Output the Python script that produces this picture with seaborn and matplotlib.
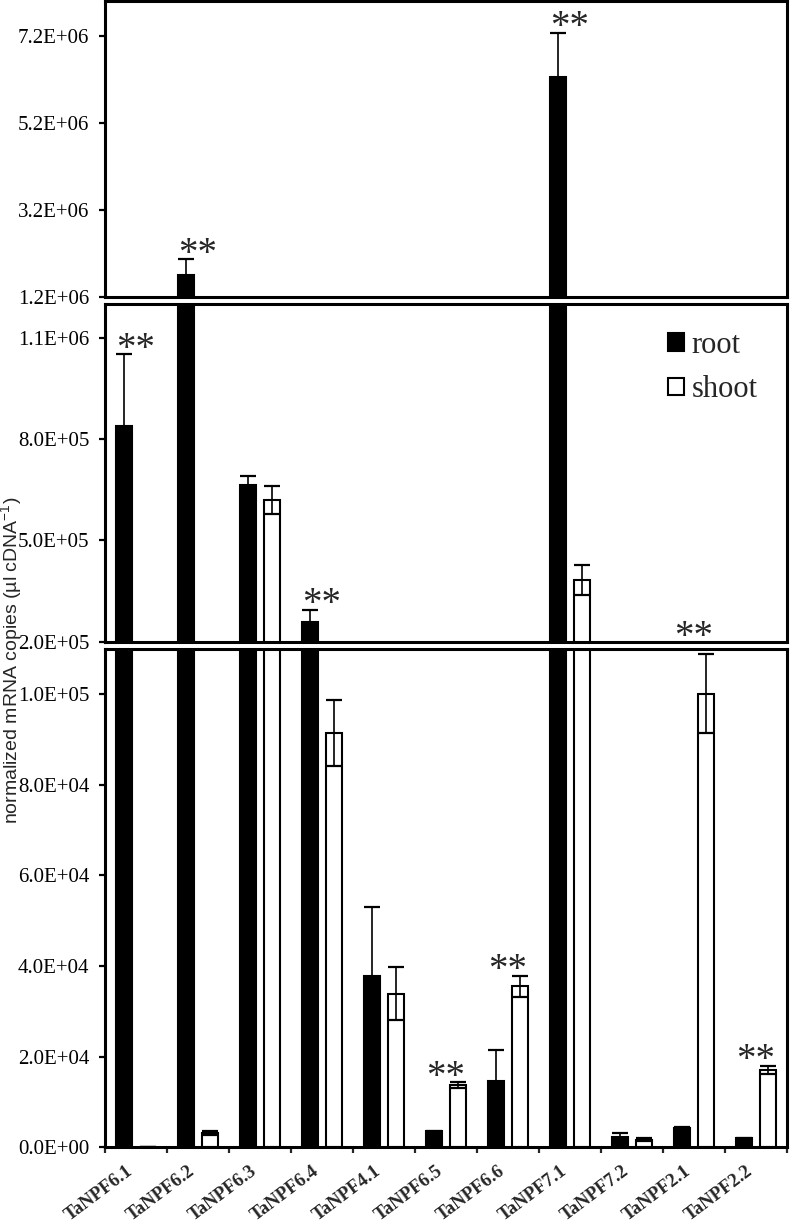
import numpy as np
import pandas as pd
import matplotlib
matplotlib.use("Agg")
import matplotlib.pyplot as plt
import seaborn as sns
from matplotlib.patches import Patch

# ---------------- data ----------------
genes = ["TaNPF6.1", "TaNPF6.2", "TaNPF6.3", "TaNPF6.4", "TaNPF4.1", "TaNPF6.5",
         "TaNPF6.6", "TaNPF7.1", "TaNPF7.2", "TaNPF2.1", "TaNPF2.2"]
tissues = ["root", "shoot"]
root_mean = [8.39e5, 1.726e6, 6.63e5, 2.57e5, 3.77e4, 3.5e3, 1.46e4, 6.26e6, 2.3e3, 4.3e3, 2.0e3]
root_se = [2.12e5, 3.5e5, 2.7e4, 3.7e4, 1.53e4, 2.0e2, 6.9e3, 1.01e6, 9.0e2, 2.0e2, 1.0e2]
shoot_mean = [0.0, 3.1e3, 6.19e5, 9.14e4, 3.39e4, 1.37e4, 3.55e4, 3.83e5, 1.7e3, 1.0e5, 1.7e4]
shoot_se = [0.0, 4.0e2, 4.2e4, 7.3e3, 5.8e3, 6.0e2, 2.3e3, 4.5e4, 3.0e2, 8.7e3, 9.0e2]
significant = ["TaNPF6.1", "TaNPF6.2", "TaNPF6.4", "TaNPF6.5", "TaNPF6.6",
               "TaNPF7.1", "TaNPF2.1", "TaNPF2.2"]

top_ticks = [1.2e6, 3.2e6, 5.2e6, 7.2e6]
mid_ticks = [2.0e5, 5.0e5, 8.0e5, 1.1e6]
bot_ticks = [0.0, 2.0e4, 4.0e4, 6.0e4, 8.0e4, 1.0e5]
top_lim = (1.2e6, 8.0e6)
mid_lim = (2.0e5, 1.2e6)
bot_lim = (0.0, 1.1e5)
ylabel = "normalized mRNA copies (µl cDNA$^{-1}$)"

# ---------------- style ----------------
sns.set_theme(style="white")
plt.rcParams["font.family"] = ["Liberation Serif", "DejaVu Serif"]
plt.rcParams["mathtext.fontset"] = "custom"
plt.rcParams["mathtext.rm"] = "Liberation Sans"
plt.rcParams["mathtext.it"] = "Liberation Sans:italic"
plt.rcParams["mathtext.bf"] = "Liberation Sans:bold"

df = pd.DataFrame({
    "gene": genes * 2,
    "tissue": [tissues[0]] * len(genes) + [tissues[1]] * len(genes),
    "value": root_mean + shoot_mean,
})
se_by_tissue = {"root": root_se, "shoot": shoot_se}
mean_by_tissue = {"root": root_mean, "shoot": shoot_mean}

W, H = 793, 1231
fig = plt.figure(figsize=(W / 100, H / 100), dpi=100)

def fx(px):
    return px / W

def fy(py):
    return 1 - py / H

x0, x1 = 105, 787
ax_top = fig.add_axes([fx(x0), fy(297.5), fx(x1 - x0), (297.5 - 1) / H])
ax_mid = fig.add_axes([fx(x0), fy(641.7), fx(x1 - x0), (641.7 - 304) / H])
ax_bot = fig.add_axes([fx(x0), fy(1147.3), fx(x1 - x0), (1147.3 - 648.5) / H])

palette = {"root": "black", "shoot": "white"}

for ax, lim, ticks in [(ax_top, top_lim, top_ticks), (ax_mid, mid_lim, mid_ticks),
                       (ax_bot, bot_lim, bot_ticks)]:
    sns.barplot(data=df, x="gene", y="value", hue="tissue", hue_order=tissues,
                palette=palette, edgecolor="black", linewidth=1.5,
                width=0.775, gap=0.33, errorbar=None, legend=False, ax=ax)
    for cont, t in zip(ax.containers, tissues):
        xs = [p.get_x() + p.get_width() / 2 for p in cont.patches]
        ax.errorbar(xs, mean_by_tissue[t], yerr=se_by_tissue[t], fmt="none",
                    ecolor="black", elinewidth=1.2, capsize=5.5, capthick=1.6,
                    zorder=5)
    ax.set_xlim(-0.5, len(genes) - 0.5)
    ax.set_ylim(*lim)
    ax.set_yticks(ticks)
    ax.set_yticklabels([f"{v:.1E}" for v in ticks], fontsize=15,
                       family="Liberation Serif")
    ax.tick_params(axis="y", direction="out", length=6 * 0.72, width=1.6,
                   pad=7, colors="black", left=True)
    ax.set_xlabel("")
    ax.set_ylabel("")
    for s in ax.spines.values():
        s.set_visible(True)
        s.set_linewidth(2.2)
        s.set_color("black")

for ax in (ax_top, ax_mid):
    ax.tick_params(axis="x", bottom=False, labelbottom=False)

# bottom x axis: boundary ticks + centred labels
ax_bot.set_xticks(np.arange(len(genes) + 1) - 0.5)
ax_bot.set_xticklabels([])
ax_bot.set_xticks(np.arange(len(genes)), minor=True)
ax_bot.set_xticklabels(genes, minor=True, rotation=37, ha="right", va="top",
                       fontweight="bold", fontsize=13.5, family="Liberation Serif")
ax_bot.tick_params(axis="x", which="major", direction="out", length=6 * 0.72,
                   width=1.6, bottom=True)
ax_bot.tick_params(axis="x", which="minor", length=0, pad=11, bottom=True)

# significance stars
star_fs = 28
lift_px = {g: 10.5 for g in significant}
lift_px["TaNPF2.1"] = 22
for g in significant:
    i = genes.index(g)
    top = max(root_mean[i] + root_se[i], shoot_mean[i] + shoot_se[i])
    if top > top_lim[0]:
        ax = ax_top
    elif top > mid_lim[0]:
        ax = ax_mid
    else:
        ax = ax_bot
    dy_pt = (lift_px[g] - 0.38 * star_fs * 100 / 72) * 0.72
    ax.annotate("**", xy=(i, top), xytext=(0, dy_pt),
                textcoords="offset points", ha="center", va="baseline",
                fontsize=star_fs, family="Liberation Serif", annotation_clip=False)

# legend
handles = [Patch(facecolor="black", edgecolor="black", linewidth=1.5),
           Patch(facecolor="white", edgecolor="black", linewidth=1.5)]
ax_mid.legend(handles, tissues, loc="upper left",
              bbox_to_anchor=(fx(668), fy(331)), bbox_transform=fig.transFigure,
              frameon=False, prop={"family": "Liberation Serif", "size": 22},
              handlelength=0.52, handleheight=0.52, handletextpad=0.25,
              labelspacing=0.5, borderpad=0, borderaxespad=0)

fig.text(fx(11), fy(660), ylabel, rotation=90, ha="center", va="center",
         fontsize=14, family="Liberation Sans")

fig.savefig("out.png", dpi=100)
